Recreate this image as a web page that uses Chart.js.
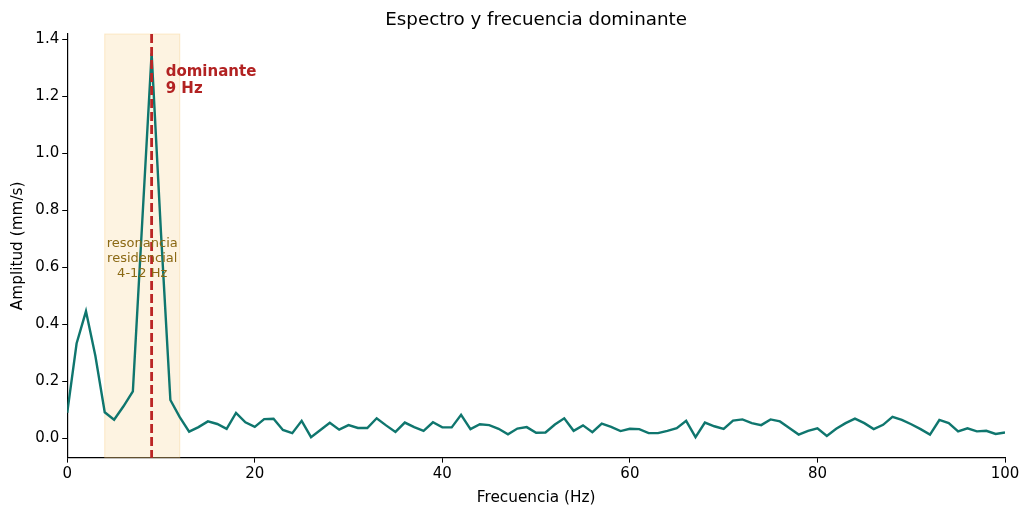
<!DOCTYPE html>
<html>
<head>
<meta charset="utf-8">
<script src="https://cdn.jsdelivr.net/npm/chart.js@4"></script>
<style>
    html, body { margin: 0; padding: 0; background: #fff; }
    #wrap { width: 1030px; height: 515px; }
</style>
</head>
<body>
<div id="wrap"><canvas id="grafico" width="1030" height="515"></canvas></div>
<script>
const frecuencias = [];
for (let f = 0; f <= 100; f++) frecuencias.push(f);

const amplitudes = [
    0.090, 0.333, 0.446, 0.290, 0.092, 0.066, 0.113, 0.165, 0.760, 1.350,
    0.720, 0.135, 0.075, 0.024, 0.040, 0.060, 0.051, 0.034, 0.090, 0.057,
    0.041, 0.068, 0.069, 0.030, 0.019, 0.062, 0.005, 0.030, 0.055, 0.031,
    0.047, 0.037, 0.037, 0.071, 0.046, 0.023, 0.056, 0.040, 0.027, 0.057,
    0.039, 0.039, 0.083, 0.033, 0.050, 0.047, 0.034, 0.015, 0.035, 0.040,
    0.020, 0.021, 0.049, 0.071, 0.027, 0.046, 0.022, 0.052, 0.041, 0.026,
    0.034, 0.033, 0.019, 0.019, 0.027, 0.036, 0.062, 0.005, 0.056, 0.043,
    0.034, 0.063, 0.067, 0.054, 0.047, 0.067, 0.060, 0.037, 0.014, 0.027,
    0.036, 0.009, 0.034, 0.054, 0.070, 0.054, 0.033, 0.048, 0.076, 0.065,
    0.050, 0.033, 0.014, 0.065, 0.054, 0.025, 0.036, 0.025, 0.027, 0.016,
    0.021
];

const ticksX = [0, 20, 40, 60, 80, 100];
const ticksY = [0.0, 0.2, 0.4, 0.6, 0.8, 1.0, 1.2, 1.4];

const bandaResonancia = [4, 12];
const frecDominante = 9;
const titulo = 'Espectro y frecuencia dominante';

const fuente = "'DejaVu Sans', sans-serif";

// Banda de resonancia, línea dominante, textos y título centrado sobre el área
const anotaciones = {
    id: 'anotaciones',
    beforeDatasetsDraw(chart) {
        const { ctx, chartArea, scales } = chart;
        const x0 = scales.x.getPixelForValue(bandaResonancia[0]);
        const x1 = scales.x.getPixelForValue(bandaResonancia[1]);
        ctx.save();
        ctx.fillStyle = 'rgba(245, 200, 120, 0.22)';
        ctx.fillRect(x0, chartArea.top, x1 - x0, chartArea.bottom - chartArea.top);
        ctx.strokeStyle = 'rgba(245, 200, 120, 0.35)';
        ctx.lineWidth = 1;
        ctx.strokeRect(x0, chartArea.top, x1 - x0, chartArea.bottom - chartArea.top);
        ctx.restore();
    },
    afterDatasetsDraw(chart) {
        const { ctx, chartArea, scales } = chart;
        const xd = scales.x.getPixelForValue(frecDominante);
        ctx.save();
        ctx.strokeStyle = '#bb2525';
        ctx.lineWidth = 2.8;
        ctx.setLineDash([9, 4]);
        ctx.beginPath();
        ctx.moveTo(xd, chartArea.top);
        ctx.lineTo(xd, chartArea.bottom);
        ctx.stroke();
        ctx.setLineDash([]);

        // texto de la banda
        const xc = scales.x.getPixelForValue((bandaResonancia[0] + bandaResonancia[1]) / 2);
        const yc = scales.y.getPixelForValue(0.63);
        ctx.fillStyle = '#8b6914';
        ctx.font = '13px ' + fuente;
        ctx.textAlign = 'center';
        ctx.textBaseline = 'middle';
        ['resonancia', 'residencial', '4-12 Hz'].forEach((t, i) => {
            ctx.fillText(t, xc, yc + (i - 1) * 15);
        });

        // texto de la frecuencia dominante
        ctx.fillStyle = '#b22222';
        ctx.font = 'bold 15px ' + fuente;
        ctx.textAlign = 'left';
        const xa = scales.x.getPixelForValue(frecDominante + 1.5);
        const ya = scales.y.getPixelForValue(1.285);
        ctx.fillText('dominante', xa, ya);
        ctx.fillText(frecDominante + ' Hz', xa, ya + 17);

        // título
        ctx.fillStyle = '#000';
        ctx.font = '18.3px ' + fuente;
        ctx.textAlign = 'center';
        ctx.fillText(titulo, (chartArea.left + chartArea.right) / 2, 20);
        ctx.restore();
    }
};

const config = {
    type: 'line',
    data: {
        datasets: [{
            data: frecuencias.map((f, i) => ({ x: f, y: amplitudes[i] })),
            borderColor: '#0f766e',
            borderWidth: 2.4,
            pointRadius: 0,
            tension: 0,
            fill: false
        }]
    },
    options: {
        responsive: false,
        animation: false,
        layout: { padding: { left: 9, right: 25, top: 34, bottom: 8 } },
        plugins: {
            legend: { display: false },
            tooltip: { enabled: false },
            title: { display: false }
        },
        scales: {
            x: {
                type: 'linear',
                min: 0,
                max: 100,
                afterBuildTicks: (s) => { s.ticks = ticksX.map(v => ({ value: v })); },
                ticks: {
                    color: '#000',
                    font: { family: fuente, size: 15 },
                    padding: 2,
                    maxRotation: 0
                },
                grid: { drawOnChartArea: false, drawTicks: true, tickLength: 5, color: '#000' },
                border: { display: true, color: '#000', width: 1.2 },
                title: {
                    display: true,
                    text: 'Frecuencia (Hz)',
                    color: '#000',
                    font: { family: fuente, size: 15.3 },
                    padding: { top: 4, bottom: 0 }
                }
            },
            y: {
                type: 'linear',
                min: -0.067,
                max: 1.418,
                afterBuildTicks: (s) => { s.ticks = ticksY.map(v => ({ value: v })); },
                ticks: {
                    color: '#000',
                    font: { family: fuente, size: 15 },
                    padding: 3,
                    callback: (v) => v.toFixed(1)
                },
                grid: { drawOnChartArea: false, drawTicks: true, tickLength: 5, color: '#000' },
                border: { display: true, color: '#000', width: 1.2 },
                title: {
                    display: true,
                    text: 'Amplitud (mm/s)',
                    color: '#000',
                    font: { family: fuente, size: 15.3 },
                    padding: { top: 0, bottom: 5 }
                }
            }
        }
    },
    plugins: [anotaciones]
};

new Chart(document.getElementById('grafico').getContext('2d'), config);
</script>
</body>
</html>
